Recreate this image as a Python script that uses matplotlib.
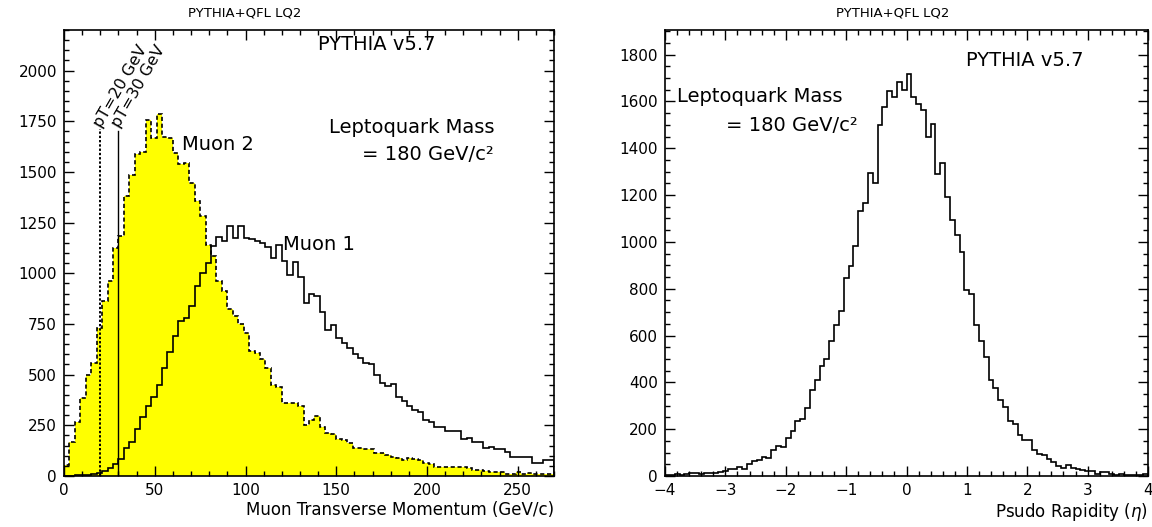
import numpy as np
import matplotlib
matplotlib.use('Agg')
import matplotlib.pyplot as plt
from matplotlib.ticker import MultipleLocator

# muon pT histograms, 3 GeV bins from 0 to 270 GeV
muon1_counts = [2, 2, 3, 4, 5, 8, 16, 26, 38, 58,
                82, 137, 170, 231, 293, 343, 392, 450, 535, 614,
                692, 763, 779, 837, 935, 1001, 1051, 1136, 1180, 1158,
                1235, 1175, 1235, 1172, 1167, 1158, 1150, 1130, 1075, 1141,
                1059, 993, 1056, 980, 853, 898, 886, 807, 721, 746,
                680, 656, 631, 603, 581, 557, 553, 499, 458, 445,
                453, 392, 371, 346, 326, 318, 277, 268, 244, 244,
                224, 224, 224, 181, 189, 170, 170, 137, 145, 132,
                132, 120, 96, 96, 92, 92, 63, 63, 79, 79]
muon2_counts = [54, 170, 264, 384, 499, 557, 730, 861, 960, 1125,
                1182, 1380, 1487, 1586, 1598, 1755, 1668, 1784, 1672, 1668,
                1594, 1537, 1545, 1446, 1355, 1281, 1141, 1084, 960, 911,
                823, 787, 751, 705, 618, 606, 576, 532, 450, 438,
                362, 361, 362, 343, 252, 277, 296, 240, 214, 207,
                181, 178, 161, 137, 137, 135, 133, 112, 112, 104,
                96, 87, 79, 87, 82, 79, 63, 60, 46, 46,
                46, 44, 46, 46, 38, 30, 30, 27, 21, 21,
                18, 12, 10, 20, 12, 14, 10, 10, 12, 10]
pt_min, pt_max = 0, 270

# pseudo rapidity histogram, 0.08 bins from -4 to 4
eta_counts = [3, 5, 8, 6, 10, 12, 11, 9, 12, 14,
              13, 15, 22, 29, 28, 37, 30, 50, 62, 70,
              80, 78, 112, 126, 123, 162, 193, 236, 243, 290,
              368, 408, 468, 498, 576, 644, 704, 845, 896, 982,
              1131, 1168, 1293, 1253, 1500, 1576, 1643, 1617, 1682, 1647,
              1719, 1617, 1589, 1564, 1447, 1503, 1290, 1337, 1193, 1095,
              1030, 956, 795, 777, 644, 576, 510, 412, 377, 326,
              293, 233, 223, 176, 155, 152, 112, 94, 90, 72,
              59, 43, 36, 47, 36, 29, 26, 23, 20, 9,
              16, 16, 9, 4, 9, 4, 4, 4, 4, 9]
eta_min, eta_max = -4, 4

pt_cuts = [20, 30]
pt_cut_labels = ['pT=20 GeV', 'pT=30 GeV']

fig = plt.figure(figsize=(11.52, 5.27), dpi=100)
ax1 = fig.add_axes([0.0556, 0.0968, 0.4253, 0.8462])
ax2 = fig.add_axes([0.5773, 0.0968, 0.4192, 0.8462])

pt_edges = np.linspace(pt_min, pt_max, len(muon1_counts) + 1)
eta_edges = np.linspace(eta_min, eta_max, len(eta_counts) + 1)

# left panel
ax1.stairs(muon2_counts, pt_edges, fill=True, color='#ffff00', lw=0)
ax1.stairs(muon1_counts, pt_edges, color='black', lw=1.2)
ax1.stairs(muon2_counts, pt_edges, color='black', lw=1.2, ls=(0, (2.5, 1.6)))
ax1.plot([pt_cuts[0]] * 2, [0, 1710], color='black', lw=1.4, ls=(0, (1.2, 1.0)))
ax1.plot([pt_cuts[1]] * 2, [0, 1700], color='black', lw=1.0)
for xc, lab in zip(pt_cuts, pt_cut_labels):
    ax1.text(xc + 0.5, 1715, lab, rotation=60, rotation_mode='anchor',
             ha='left', va='baseline', fontsize=11.5)
ax1.set_xlim(pt_min, pt_max)
ax1.set_ylim(0, 2200)
ax1.xaxis.set_major_locator(MultipleLocator(50))
ax1.xaxis.set_minor_locator(MultipleLocator(10))
ax1.yaxis.set_major_locator(MultipleLocator(250))
ax1.yaxis.set_minor_locator(MultipleLocator(50))
ax1.set_xlabel('Muon Transverse Momentum (GeV/c)', loc='right', fontsize=12, labelpad=2)
ax1.text(140, 2130, 'PYTHIA v5.7', fontsize=14, va='center')
ax1.text(237, 1720, 'Leptoquark Mass', fontsize=14, va='center', ha='right')
ax1.text(237, 1586, '= 180 GeV/c²', fontsize=14, va='center', ha='right')
ax1.text(65, 1635, 'Muon 2', fontsize=14, va='center')
ax1.text(120.5, 1141, 'Muon 1', fontsize=14, va='center')

# right panel
ax2.stairs(eta_counts, eta_edges, color='black', lw=1.2)
ax2.set_xlim(eta_min, eta_max)
ax2.set_ylim(0, 1905)
ax2.xaxis.set_major_locator(MultipleLocator(1))
ax2.xaxis.set_minor_locator(MultipleLocator(0.2))
ax2.yaxis.set_major_locator(MultipleLocator(200))
ax2.yaxis.set_minor_locator(MultipleLocator(50))
ax2.set_xlabel(r'Psudo Rapidity ($\eta$)', loc='right', fontsize=12, labelpad=2)
ax2.text(0.985, 1773, 'PYTHIA v5.7', fontsize=14, va='center')
ax2.text(-3.8, 1623, 'Leptoquark Mass', fontsize=14, va='center')
ax2.text(-0.8, 1498, '= 180 GeV/c²', fontsize=14, va='center', ha='right')

for ax in (ax1, ax2):
    plt.setp(ax.spines.values(), linewidth=1.2)
    ax.tick_params(which='both', direction='in', top=True, right=True, labelsize=11, width=1)
    ax.tick_params(which='major', length=7, pad=5)
    ax.tick_params(which='minor', length=3.5)

fig.text(245 / 1152, 1 - 13 / 527, 'PYTHIA+QFL LQ2', fontsize=9.5, ha='center', va='center')
fig.text(893 / 1152, 1 - 13 / 527, 'PYTHIA+QFL LQ2', fontsize=9.5, ha='center', va='center')

fig.savefig('out.png', dpi=100)
